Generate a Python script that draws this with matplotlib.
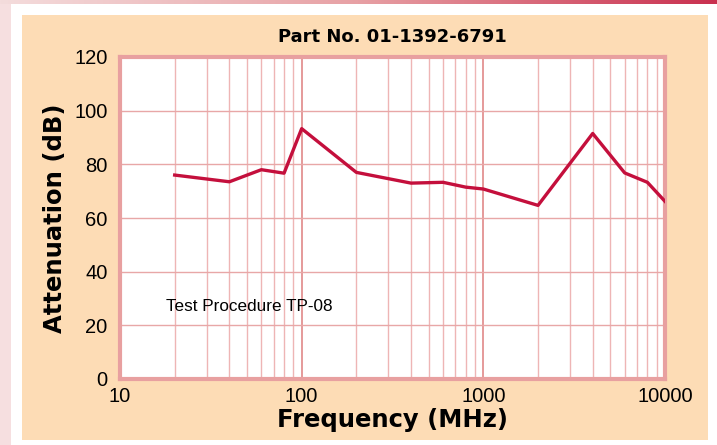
import numpy as np
import matplotlib.pyplot as plt
from matplotlib.patches import Rectangle
from matplotlib.colors import LinearSegmentedColormap

# Attenuation curve
freq_mhz = [20, 40, 60, 80, 100, 200, 400, 600, 800, 1000, 2000, 4000, 6000, 8000, 10000]
atten_db = [76, 73.5, 78, 76.7, 93.3, 77, 73, 73.3, 71.5, 70.8, 64.7, 91.5, 76.8, 73.3, 66.2]
x_ticks = [10, 100, 1000, 10000]
y_ticks = [0, 20, 40, 60, 80, 100, 120]

plt.rcParams['font.family'] = ['Liberation Sans', 'DejaVu Sans']

fig = plt.figure(figsize=(7.17, 4.45), dpi=100, facecolor='white')

# Decorative page elements: left pink strip, top gradient bar, peach panel
W, H = 717, 445
fig.patches.append(Rectangle((0, 0), 11 / W, 1, transform=fig.transFigure,
                             facecolor='#f6dfe0', edgecolor='none', zorder=-2))
bar = fig.add_axes([0, 1 - 4.5 / H, 1, 4.5 / H])
grad = LinearSegmentedColormap.from_list('bar', ['#f4dcdc', '#e7a0a4', '#c9304f'])
bar.imshow(np.linspace(0, 1, 256)[None, :], aspect='auto', cmap=grad)
bar.axis('off')
fig.patches.append(Rectangle((22 / W, 1 - 440 / H), (708 - 22) / W, (440 - 15) / H,
                             transform=fig.transFigure, facecolor='#fddcb5',
                             edgecolor='none', zorder=-2))

ax = fig.add_axes([120 / W, 1 - 379 / H, 545 / W, 322 / H])
ax.set_facecolor('white')
ax.plot(freq_mhz, atten_db, color='#c40f3c', linewidth=2.4, zorder=5)

ax.set_xscale('log')
ax.set_xlim(10, 10000)
ax.set_ylim(0, 120)
ax.set_xticks(x_ticks)
ax.set_xticklabels([str(v) for v in x_ticks])
ax.set_yticks(y_ticks)
ax.tick_params(axis='both', length=0, labelsize=14.5)
ax.tick_params(axis='x', pad=6)
ax.tick_params(axis='y', pad=9)

ax.grid(True, which='major', axis='x', color='#e59a9a', linewidth=1.4)
ax.grid(True, which='minor', axis='x', color='#eeb5b5', linewidth=1.0)
ax.grid(True, which='major', axis='y', color='#e8a7a7', linewidth=1.0)
ax.tick_params(axis='x', which='minor', length=0)

for s in ax.spines.values():
    s.set_color('#e8a0a0')
    s.set_linewidth(3)

heavy = dict(family='DejaVu Sans', fontweight='bold')
ax.set_title('Part No. 01-1392-6791', fontsize=13, pad=11, **heavy)
ax.set_xlabel('Frequency (MHz)', fontsize=17.5, labelpad=1, **heavy)
ax.set_ylabel('Attenuation (dB)', fontsize=17.5, labelpad=5, **heavy)
ax.text(18, 27, 'Test Procedure TP-08', fontsize=12.3, va='center', ha='left')

fig.savefig('out.png', dpi=100, facecolor=fig.get_facecolor())
